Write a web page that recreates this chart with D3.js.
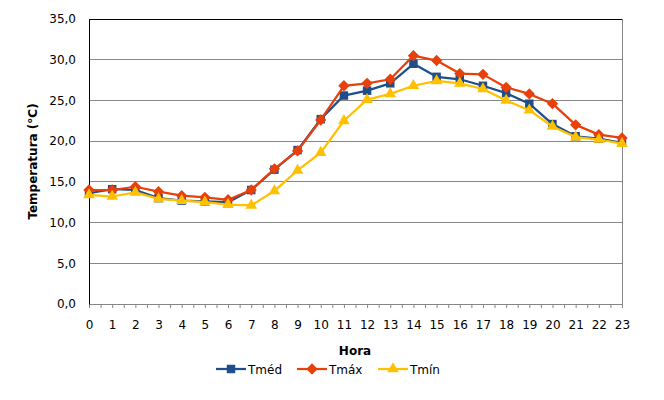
<!DOCTYPE html>
<html><head><meta charset="utf-8">
<script src="https://cdn.jsdelivr.net/npm/d3@7"></script>
<style>body{margin:0;background:#fff}svg{display:block;font-family:"DejaVu Sans",Verdana,sans-serif}</style>
</head><body>
<svg id="c" width="664" height="400"></svg>
<script>
const hours = d3.range(0, 24);
const tmed = [13.6,14.1,14.0,13.0,12.7,12.6,12.5,14.0,16.5,18.9,22.7,25.6,26.2,27.1,29.5,27.9,27.6,26.8,25.9,24.6,22.1,20.6,20.3,19.8];
const tmax = [14.0,14.0,14.4,13.8,13.3,13.1,12.8,14.0,16.6,18.8,22.6,26.8,27.1,27.6,30.5,29.9,28.3,28.2,26.6,25.8,24.6,22.0,20.8,20.4];
const tmin = [13.4,13.2,13.7,12.9,12.7,12.5,12.2,12.1,13.9,16.4,18.6,22.5,25.1,25.8,26.8,27.4,27.1,26.4,25.0,23.8,21.8,20.5,20.2,19.7];
const yTicks = [0,5,10,15,20,25,30,35];
const seriesNames = ["Tméd","Tmáx","Tmín"];
const seriesColors = ["#1F4E8A","#E8400A","#FFC000"];
const diamond = { draw(ctx, size) { const r = Math.sqrt(size / 2);
  ctx.moveTo(0, -r); ctx.lineTo(r, 0); ctx.lineTo(0, r); ctx.lineTo(-r, 0); ctx.closePath(); } };
const seriesShapes = [d3.symbolSquare, diamond, d3.symbolTriangle];
const seriesData = [tmed, tmax, tmin];

const svg = d3.select("#c");
const L = 89, R = 622, T = 19, B = 304;
const x = d3.scaleLinear().domain([0, 23]).range([L, R]);
const y = d3.scaleLinear().domain([0, 35]).range([B, T]);
const fmt = v => d3.format(".1f")(v).replace(".", ",");

// gridlines
svg.append("g").selectAll("line").data(yTicks.filter(t => t > 0 && t < 35)).join("line")
  .attr("x1", L).attr("x2", R).attr("y1", d => y(d)).attr("y2", d => y(d))
  .attr("stroke", "#868686").attr("stroke-width", 1).attr("shape-rendering", "crispEdges");
// borders
svg.append("line").attr("x1", L).attr("x2", R).attr("y1", T).attr("y2", T).attr("stroke", "#000").attr("shape-rendering", "crispEdges");
svg.append("line").attr("x1", R).attr("x2", R).attr("y1", T).attr("y2", B).attr("stroke", "#868686").attr("shape-rendering", "crispEdges");

// x axis
const xAxis = d3.axisBottom(x).tickValues(d3.range(0, 23.01, 0.5)).tickSize(4).tickFormat("");
const gx = svg.append("g").attr("transform", `translate(0,${B})`).call(xAxis);
gx.select(".domain").attr("stroke", "#868686");
gx.selectAll(".tick line").attr("stroke", "#868686");
const gxl = svg.append("g").attr("transform", `translate(0,${B})`).call(d3.axisBottom(x).tickValues(hours).tickSize(0).tickPadding(16).tickFormat(d3.format("d")));
gxl.select(".domain").remove();
gxl.selectAll("text").attr("font-size", 12).attr("font-family", "DejaVu Sans").attr("fill", "#000");

// y axis
const gy = svg.append("g").attr("transform", `translate(${L},0)`).call(d3.axisLeft(y).tickValues(yTicks).tickSize(0).tickPadding(13).tickFormat(fmt));
gy.select(".domain").attr("stroke", "#000");
gy.selectAll("text").attr("font-size", 12).attr("font-family", "DejaVu Sans").attr("fill", "#000");

// titles
svg.append("text").attr("transform", `translate(37,${(T + B) / 2}) rotate(-90)`).attr("text-anchor", "middle")
  .attr("font-size", 12).attr("font-weight", "bold").text("Temperatura (°C)");
svg.append("text").attr("x", 355).attr("y", 355).attr("text-anchor", "middle")
  .attr("font-size", 12).attr("font-weight", "bold").text("Hora");

// series
const line = d3.line().x((d, i) => x(hours[i])).y(d => y(d));
const sizes = [72, 64, 58];
seriesData.forEach((data, si) => {
  const g = svg.append("g");
  g.append("path").datum(data).attr("d", line).attr("fill", "none")
    .attr("stroke", seriesColors[si]).attr("stroke-width", 2.25).attr("stroke-linejoin", "round");
  g.selectAll("path.m").data(data).join("path").attr("class", "m")
    .attr("transform", (d, i) => `translate(${x(hours[i])},${y(d)})`)
    .attr("d", d3.symbol().type(seriesShapes[si]).size(sizes[si]))
    .attr("fill", seriesColors[si]);
});

// legend
const legX = [216, 297, 378];
const legY = 369;
seriesNames.forEach((n, si) => {
  const g = svg.append("g").attr("transform", `translate(${legX[si]},${legY})`);
  g.append("line").attr("x1", 0).attr("x2", 30).attr("y1", 0).attr("y2", 0)
    .attr("stroke", seriesColors[si]).attr("stroke-width", 2.25);
  g.append("path").attr("transform", "translate(15,0)")
    .attr("d", d3.symbol().type(seriesShapes[si]).size(sizes[si])).attr("fill", seriesColors[si]);
  g.append("text").attr("x", 32).attr("y", 4.5).attr("font-size", 12).text(n);
});
</script>
</body></html>
